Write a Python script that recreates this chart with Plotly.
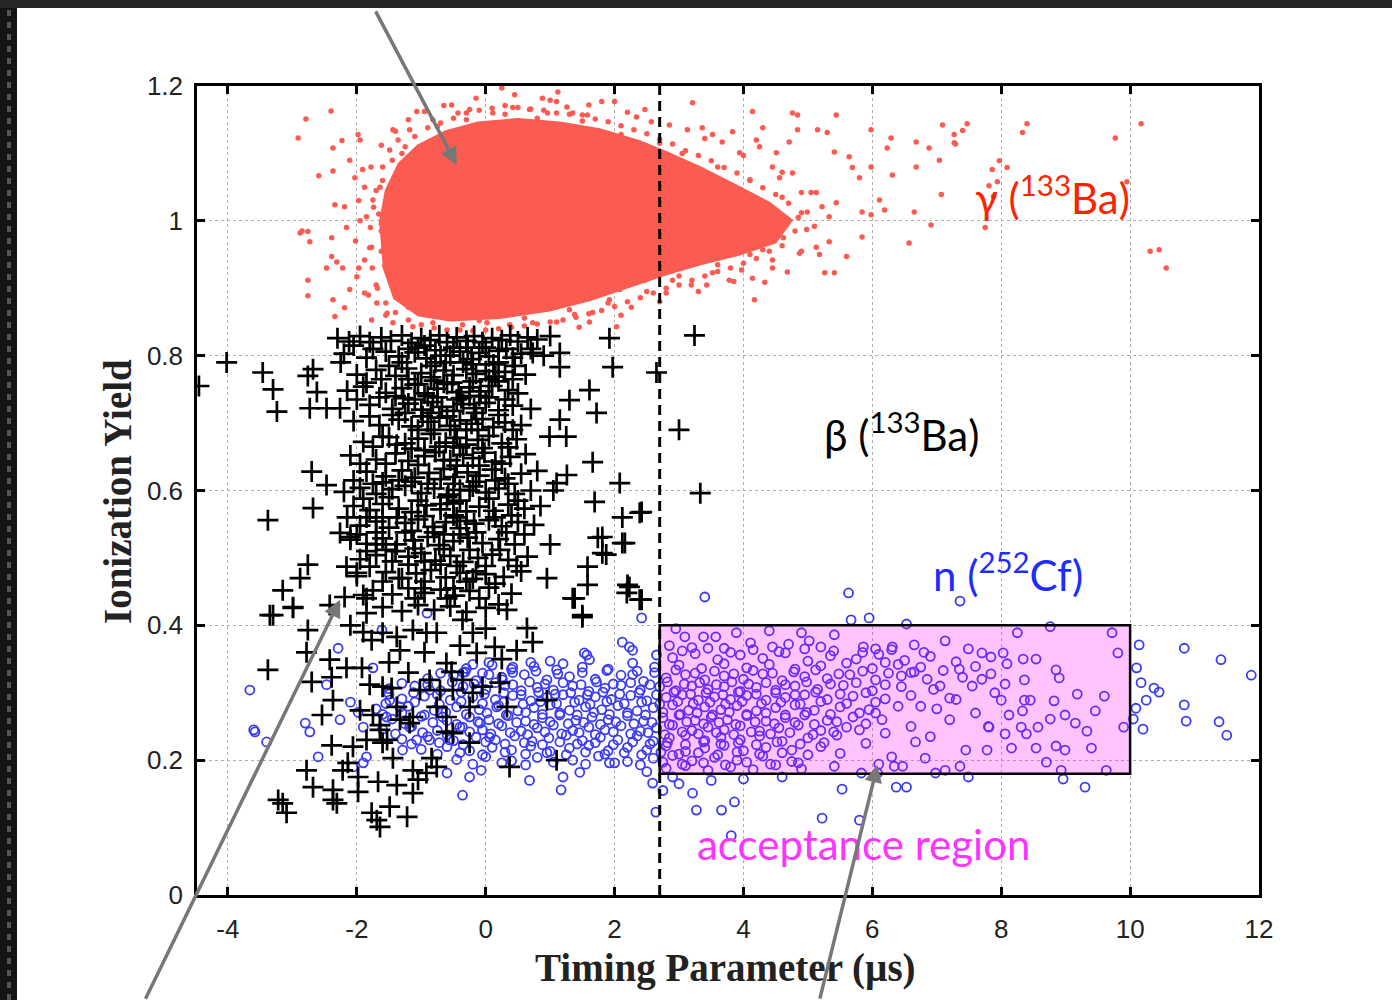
import plotly.graph_objects as go

# ---------------- data ----------------
# gamma (133Ba): outline of the saturated dense core + scattered halo dots
gamma_core_x = [-1.65, -1.55, -1.35, -1.05, -0.62, -0.12, 0.50, 1.15, 1.77, 2.39, 2.78, 3.32, 3.94, 4.40, 4.75,
                4.50, 3.94, 3.32, 2.78, 2.23, 1.61, 0.99, 0.22, -0.56, -1.05, -1.42, -1.60]
gamma_core_y = [0.994, 1.045, 1.085, 1.112, 1.133, 1.146, 1.151, 1.146, 1.136, 1.118, 1.103, 1.080, 1.050, 1.027, 1.001,
                0.968, 0.950, 0.935, 0.920, 0.902, 0.882, 0.867, 0.856, 0.852, 0.860, 0.885, 0.935]

gamma_halo = [
    (-2.91, 1.123), (-2.79, 1.151), (-2.40, 1.163), (-2.59, 1.067), (-2.37, 1.074), (-2.23, 1.119), (-2.37, 1.108),
    (-2.11, 1.090), (-1.98, 1.128), (-1.95, 1.120), (-2.03, 1.064), (-1.91, 1.076), (-2.34, 1.024), (-2.19, 1.021),
    (-2.88, 0.982), (-2.76, 0.984), (-2.73, 0.969), (-2.39, 0.975), (-2.16, 0.990), (-2.76, 0.912), (-2.76, 0.889),
    (-2.39, 0.947), (-2.31, 0.939), (-2.22, 0.930), (-2.47, 0.930), (-2.37, 0.883), (-2.19, 0.871), (-2.34, 0.858),
    (-2.11, 0.898), (-2.00, 0.917), (-1.88, 0.942), (-1.77, 0.961), (-1.85, 1.006), (-1.75, 1.031), (-1.64, 1.050),
    (-1.60, 1.080), (-1.49, 1.105), (-1.36, 1.120), (-1.44, 1.135), (-1.18, 1.135), (-1.07, 1.162), (-0.82, 1.150),
    (-0.53, 1.172), (-0.43, 1.160), (-0.25, 1.165), (0.25, 1.197), (0.88, 1.182), (1.12, 1.191), (1.10, 1.177),
    (0.42, 1.168), (0.68, 1.165), (0.11, 1.160), (0.96, 1.160), (1.26, 1.169), (-1.88, 0.893), (-1.69, 0.878),
    (-1.53, 0.863), (-1.77, 0.853), (-1.44, 0.849), (-1.13, 0.843), (-0.82, 0.849), (-0.36, 0.846), (0.02, 0.849),
    (0.37, 0.846), (0.73, 0.849), (1.10, 0.850), (1.80, 1.177), (2.00, 1.177), (1.35, 1.160), (1.58, 1.157),
    (2.34, 1.154), (2.57, 1.147), (2.47, 1.165), (3.21, 1.175), (3.13, 1.135), (3.36, 1.138), (3.52, 1.128),
    (3.83, 1.132), (4.14, 1.162), (4.30, 1.138), (4.20, 1.120), (3.67, 1.117), (3.94, 1.101), (4.25, 1.110),
    (4.51, 1.101), (4.71, 1.117), (4.76, 1.160), (4.84, 1.157), (4.84, 1.135), (5.15, 1.135), (5.30, 1.131),
    (5.44, 1.157), (5.41, 1.102), (5.64, 1.095), (5.69, 1.079), (5.80, 1.064), (5.98, 1.135), (5.98, 1.080),
    (6.23, 1.108), (6.29, 1.123), (6.31, 1.068), (6.68, 1.117), (6.68, 1.080), (6.88, 1.108), (7.04, 1.090),
    (7.09, 1.142), (7.07, 1.039), (7.27, 1.128), (7.27, 1.116), (6.57, 0.967), (6.65, 1.013), (6.91, 0.994),
    (6.11, 1.031), (6.19, 1.016), (5.98, 1.009), (5.84, 1.013), (5.84, 0.976), (5.60, 0.947), (5.44, 1.027),
    (5.33, 1.006), (5.22, 1.021), (5.13, 1.042), (5.13, 0.961), (5.33, 0.969), (5.41, 0.923), (5.26, 0.923),
    (5.18, 0.950), (4.98, 0.987), (4.99, 1.013), (4.90, 1.042), (4.76, 1.071), (4.56, 1.064), (4.45, 1.080),
    (4.87, 0.952), (4.68, 0.924), (4.45, 0.942), (4.30, 0.957), (4.14, 0.915), (4.33, 0.909), (4.17, 0.883),
    (3.97, 0.927), (3.78, 0.912), (3.52, 0.923), (3.43, 0.905), (3.19, 0.905), (2.90, 0.912), (2.80, 0.893),
    (2.47, 0.912), (2.26, 0.872), (2.08, 0.898), (1.92, 0.883), (1.77, 0.893), (1.61, 0.850), (1.38, 0.861),
    (2.03, 0.843), (1.66, 0.864), (7.29, 1.114), (7.40, 1.134), (7.47, 1.144), (8.33, 1.131), (8.40, 1.144),
    (7.97, 1.089), (7.86, 1.076), (8.09, 1.079), (7.94, 1.058), (7.81, 1.052), (7.88, 1.036), (7.75, 0.990),
    (9.77, 1.123), (10.17, 1.144), (9.95, 1.058), (10.31, 0.955), (10.45, 0.957), (10.56, 0.930),
    (-2.85, 0.985), (-1.70, 0.905), (-1.62, 0.985), (-1.66, 1.010), (-1.30, 1.100), (-0.75, 1.140), (-0.30, 1.150),
    (0.30, 1.158), (0.80, 1.152), (1.50, 1.148), (2.10, 1.128), (2.70, 1.115), (3.05, 1.100), (3.60, 1.080),
    (4.10, 1.060), (4.60, 1.035), (4.85, 1.005), (4.62, 0.975), (4.10, 0.950), (3.60, 0.935), (3.00, 0.918),
    (2.50, 0.895), (1.90, 0.878), (1.30, 0.868), (0.60, 0.856), (-0.10, 0.852), (-0.80, 0.858), (-1.20, 0.872),
    (-1.45, 0.905), (-1.62, 0.955),
    # ring close to the edge of the core
    (-1.60, 1.060), (-1.45, 1.090), (-1.25, 1.110), (-1.10, 1.125), (-0.90, 1.138), (-0.70, 1.145), (-0.50, 1.152),
    (-0.30, 1.160), (-0.10, 1.164), (0.10, 1.167), (0.30, 1.171), (0.50, 1.168), (0.70, 1.166), (0.90, 1.164),
    (1.10, 1.160), (1.30, 1.158), (1.50, 1.157), (1.70, 1.151), (1.90, 1.147), (2.10, 1.141), (2.30, 1.135),
    (2.50, 1.129), (2.70, 1.121), (2.90, 1.114), (3.10, 1.104), (3.30, 1.097), (3.50, 1.089), (3.70, 1.079),
    (3.90, 1.071), (4.10, 1.061), (4.30, 1.049), (4.50, 1.039), (4.70, 1.026), (4.90, 1.012),
    (4.80, 0.985), (4.60, 0.963), (4.40, 0.955), (4.20, 0.944), (4.00, 0.937), (3.80, 0.930), (3.60, 0.925),
    (3.40, 0.918), (3.20, 0.912), (3.00, 0.905), (2.80, 0.900), (2.60, 0.893), (2.40, 0.886), (2.20, 0.880),
    (2.00, 0.873), (1.80, 0.867), (1.60, 0.862), (1.40, 0.857), (1.20, 0.853), (1.00, 0.850), (0.80, 0.847),
    (0.60, 0.844), (0.40, 0.842), (0.20, 0.840), (0.00, 0.838), (-0.20, 0.837), (-0.40, 0.838), (-0.60, 0.838),
    (-0.80, 0.841), (-1.00, 0.846), (-1.20, 0.853), (-1.40, 0.864), (-1.55, 0.878), (-1.68, 0.900), (-1.76, 0.930),
    (-1.80, 0.960), (-1.79, 0.990), (-1.74, 1.020), (-1.70, 1.045),
    # outer, sparser ring
    (-1.95, 1.000), (-1.88, 1.050), (-1.78, 1.080), (-1.62, 1.112), (-1.40, 1.133), (-1.20, 1.150), (-0.95, 1.162),
    (-0.65, 1.171), (-0.15, 1.182), (0.45, 1.187), (1.00, 1.179), (1.60, 1.172), (2.20, 1.161), (2.85, 1.142),
    (3.40, 1.122), (4.00, 1.097), (4.60, 1.072), (5.05, 1.042), (5.10, 0.992), (4.90, 0.955), (4.45, 0.930),
    (3.85, 0.910), (3.30, 0.895), (2.70, 0.880), (2.10, 0.860), (1.45, 0.842), (-1.55, 0.860), (-1.82, 0.890),
    (-1.97, 0.930), (-2.02, 0.970), (-1.97, 1.030),
]

# beta (133Ba): crosses
beta_pts = [
    # dense core
    (-2.30, 0.826), (-2.12, 0.821), (-1.95, 0.829), (-1.80, 0.820), (-1.62, 0.827), (-1.47, 0.822), (-1.30, 0.830),
    (-1.15, 0.819), (-1.00, 0.826), (-0.86, 0.823), (-0.72, 0.830), (-0.60, 0.820), (-0.45, 0.827), (-0.30, 0.822),
    (-0.18, 0.829), (-0.05, 0.820), (0.10, 0.826), (0.25, 0.823), (0.38, 0.830), (0.50, 0.821), (0.65, 0.827),
    (0.80, 0.824), (1.00, 0.829),
    (-2.20, 0.803), (-1.85, 0.797), (-1.55, 0.806), (-1.35, 0.799), (-1.10, 0.805), (-0.92, 0.796), (-0.78, 0.808),
    (-0.55, 0.800), (-0.40, 0.806), (-0.22, 0.795), (-0.10, 0.804), (0.05, 0.799), (0.20, 0.807), (0.42, 0.797),
    (0.55, 0.803), (0.90, 0.800),
    (-2.00, 0.772), (-1.70, 0.779), (-1.40, 0.770), (-1.22, 0.781), (-1.00, 0.774), (-0.85, 0.768), (-0.65, 0.778),
    (-0.50, 0.771), (-0.30, 0.780), (-0.15, 0.773), (0.00, 0.777), (0.15, 0.769), (0.30, 0.776), (0.62, 0.772),
    (-2.15, 0.748), (-1.90, 0.754), (-1.55, 0.745), (-1.30, 0.752), (-1.10, 0.757), (-0.95, 0.744), (-0.75, 0.751),
    (-0.60, 0.758), (-0.42, 0.746), (-0.25, 0.753), (-0.08, 0.747), (0.10, 0.755), (0.35, 0.749), (0.50, 0.744),
    (-1.80, 0.727), (-1.45, 0.721), (-1.20, 0.729), (-1.00, 0.720), (-0.82, 0.731), (-0.68, 0.724), (-0.50, 0.718),
    (-0.35, 0.728), (-0.18, 0.722), (0.00, 0.730), (0.20, 0.719), (0.42, 0.726), (0.70, 0.721),
    (-2.05, 0.703), (-1.65, 0.697), (-1.35, 0.705), (-1.15, 0.695), (-0.90, 0.702), (-0.72, 0.708), (-0.55, 0.696),
    (-0.40, 0.704), (-0.22, 0.699), (-0.05, 0.706), (0.12, 0.694), (0.30, 0.701), (0.55, 0.697),
    (-1.90, 0.672), (-1.50, 0.679), (-1.25, 0.670), (-1.05, 0.677), (-0.85, 0.684), (-0.62, 0.671), (-0.45, 0.678),
    (-0.30, 0.668), (-0.12, 0.675), (0.05, 0.681), (0.25, 0.670), (0.48, 0.676),
    (-2.10, 0.652), (-1.70, 0.646), (-1.40, 0.655), (-1.20, 0.644), (-0.95, 0.651), (-0.78, 0.657), (-0.55, 0.645),
    (-0.35, 0.653), (-0.20, 0.648), (-0.02, 0.656), (0.15, 0.643), (0.38, 0.650), (0.62, 0.654),
    (-1.85, 0.628), (-1.55, 0.621), (-1.30, 0.630), (-1.10, 0.619), (-0.88, 0.626), (-0.65, 0.632), (-0.48, 0.620),
    (-0.28, 0.627), (-0.10, 0.622), (0.10, 0.631), (0.30, 0.618), (0.55, 0.625), (0.80, 0.629),
    (-2.20, 0.598), (-1.95, 0.604), (-1.70, 0.595), (-1.45, 0.602), (-1.25, 0.607), (-1.00, 0.596), (-0.80, 0.603),
    (-0.58, 0.594), (-0.40, 0.601), (-0.20, 0.606), (0.00, 0.597), (0.20, 0.603), (0.45, 0.595), (0.70, 0.600),
    (-2.05, 0.577), (-1.80, 0.571), (-1.60, 0.580), (-1.35, 0.573), (-1.15, 0.568), (-0.92, 0.578), (-0.70, 0.572),
    (-0.50, 0.581), (-0.30, 0.569), (-0.10, 0.576), (0.12, 0.570), (0.35, 0.579), (0.60, 0.573), (0.85, 0.577),
    (-1.95, 0.548), (-1.70, 0.554), (-1.50, 0.545), (-1.25, 0.552), (-1.05, 0.557), (-0.82, 0.546), (-0.62, 0.553),
    (-0.40, 0.544), (-0.18, 0.551), (0.05, 0.556), (0.25, 0.547), (0.50, 0.553), (0.75, 0.549),
    (-2.10, 0.527), (-1.85, 0.521), (-1.60, 0.529), (-1.38, 0.520), (-1.12, 0.526), (-0.90, 0.531), (-0.72, 0.519),
    (-0.50, 0.525), (-0.28, 0.530), (-0.05, 0.522), (0.20, 0.528), (0.45, 0.520),
    (-1.95, 0.498), (-1.70, 0.504), (-1.45, 0.495), (-1.20, 0.502), (-1.00, 0.507), (-0.78, 0.496), (-0.55, 0.503),
    (-0.35, 0.494), (-0.12, 0.500), (0.10, 0.505), (0.35, 0.497), (0.65, 0.502),
    (-2.00, 0.473), (-1.55, 0.479), (-1.30, 0.470), (-1.08, 0.477), (-0.85, 0.482), (-0.62, 0.471), (-0.40, 0.478),
    (-0.20, 0.469), (0.00, 0.476), (0.28, 0.472), (0.55, 0.480),
    (-1.75, 0.452), (-1.45, 0.446), (-1.20, 0.455), (-0.95, 0.448), (-0.70, 0.453), (-0.48, 0.444), (-0.25, 0.451),
    (0.05, 0.456), (0.40, 0.447),
    (-1.60, 0.427), (-1.30, 0.421), (-1.05, 0.430), (-0.80, 0.423), (-0.55, 0.428), (-0.30, 0.420), (0.00, 0.426),
    (0.20, 0.431),
    (-1.05, 0.812), (-0.78, 0.790), (-0.50, 0.812), (-0.20, 0.787), (-0.65, 0.760), (-0.38, 0.737), (-0.90, 0.740),
    (-1.20, 0.765), (-0.10, 0.740), (0.05, 0.765), (-0.60, 0.710), (-0.30, 0.690), (-0.85, 0.715), (-1.05, 0.690),
    (-0.50, 0.665), (-1.30, 0.790), (-0.95, 0.660), (-0.15, 0.715), (-0.70, 0.800), (0.20, 0.790), (-1.40, 0.740),
    (-1.60, 0.680), (-1.75, 0.610), (-1.60, 0.560), (-0.70, 0.580), (-0.90, 0.610), (-1.15, 0.540), (-1.40, 0.510),
    (-0.65, 0.535), (-0.95, 0.495), (-1.70, 0.520), (-0.25, 0.600), (-0.45, 0.560), (-0.15, 0.480), (-1.00, 0.455),
    (-1.35, 0.470), (-0.50, 0.455),
    (-2.25, 0.790), (-2.05, 0.815), (-1.75, 0.810), (-1.50, 0.785), (-1.20, 0.810), (-0.95, 0.815), (-0.85, 0.785),
    (-0.62, 0.790), (-0.35, 0.790), (-0.28, 0.812), (0.00, 0.812), (0.12, 0.787), (0.32, 0.810), (0.45, 0.785),
    (0.70, 0.810), (-1.85, 0.760), (-1.62, 0.765), (-1.05, 0.758), (-0.80, 0.763), (-0.52, 0.760), (-0.20, 0.762),
    (0.20, 0.762), (0.42, 0.765), (-2.00, 0.735), (-1.65, 0.738), (-1.28, 0.737), (-1.10, 0.735), (-0.75, 0.738),
    (-0.45, 0.735), (-0.25, 0.740), (0.05, 0.738), (0.30, 0.735), (-1.80, 0.710), (-1.45, 0.712), (-1.25, 0.715),
    (-0.98, 0.710), (-0.80, 0.690), (-0.48, 0.690), (-0.12, 0.690), (0.20, 0.712), (0.42, 0.690), (-1.75, 0.665),
    (-1.38, 0.668), (-1.15, 0.662), (-0.72, 0.665), (-0.40, 0.664), (-0.05, 0.663), (0.35, 0.664), (-1.95, 0.640),
    (-1.55, 0.640), (-1.05, 0.638), (-0.65, 0.645), (-0.45, 0.637), (-0.10, 0.637), (0.25, 0.640), (-2.05, 0.615),
    (-1.60, 0.612), (-1.35, 0.615), (-1.15, 0.613), (-0.70, 0.617), (-0.50, 0.610), (-0.15, 0.613), (0.15, 0.615),
    (0.35, 0.610), (-1.90, 0.588), (-1.50, 0.590), (-1.05, 0.585), (-0.60, 0.590), (-0.40, 0.585), (0.05, 0.588),
    (0.50, 0.585), (-2.15, 0.560), (-1.85, 0.560), (-1.38, 0.560), (-0.95, 0.562), (-0.50, 0.563), (-0.30, 0.555),
    (0.15, 0.560), (0.40, 0.563), (-2.00, 0.535), (-1.70, 0.538), (-1.25, 0.538), (-0.80, 0.538), (-0.40, 0.535),
    (-0.15, 0.538), (0.32, 0.538), (0.60, 0.535), (-1.85, 0.510), (-1.55, 0.512), (-1.10, 0.514), (-0.65, 0.513),
    (-0.25, 0.512), (0.00, 0.488), (0.22, 0.512), (0.48, 0.488), (-1.80, 0.487), (-1.20, 0.490), (-0.70, 0.490),
    (-0.45, 0.488), (-1.60, 0.465), (-0.95, 0.465), (-0.30, 0.465), (0.15, 0.462), (-1.85, 0.440), (-1.10, 0.440),
    (-0.60, 0.440), (-0.10, 0.440),
    # outliers, upper part
    (-4.45, 0.755), (-4.02, 0.790), (-3.46, 0.775), (-3.30, 0.750), (-3.24, 0.717), (-2.76, 0.770), (-2.68, 0.780),
    (-2.62, 0.746), (-2.73, 0.722), (-2.47, 0.722), (-2.26, 0.722), (-2.70, 0.628), (-2.47, 0.608), (-2.68, 0.574),
    (-3.38, 0.556), (-2.76, 0.490), (-2.88, 0.470), (-3.15, 0.452), (-2.99, 0.427), (-3.30, 0.415), (-2.42, 0.430),
    (-2.19, 0.442), (-2.26, 0.537), (-2.10, 0.531), (-2.16, 0.487), (-2.00, 0.478), (-1.90, 0.445), (-1.85, 0.418),
    (1.38, 0.440), (1.58, 0.487), (1.58, 0.460), (1.50, 0.415), (1.74, 0.530), (1.87, 0.505), (2.12, 0.560),
    (2.39, 0.567), (2.16, 0.522), (2.19, 0.448), (2.39, 0.438), (2.20, 0.460), (1.61, 0.749), (1.30, 0.734),
    (1.72, 0.715), (1.15, 0.705), (0.99, 0.680), (1.25, 0.680), (1.66, 0.642), (1.26, 0.623), (1.10, 0.611),
    (2.08, 0.611), (1.69, 0.583), (2.42, 0.568), (1.81, 0.531), (2.12, 0.522), (1.81, 0.507), (1.35, 0.440),
    (2.23, 0.457), (2.42, 0.438), (1.92, 0.826), (1.97, 0.783), (2.65, 0.775), (3.00, 0.690), (3.33, 0.596),
    (3.24, 0.830), (0.73, 0.804), (1.15, 0.804), (1.15, 0.783), (1.00, 0.520), (0.95, 0.470), (1.05, 0.600),
    # lower part
    (-3.35, 0.415), (-2.99, 0.426), (-3.38, 0.334), (-2.76, 0.393), (-2.78, 0.360), (-2.70, 0.316), (-2.42, 0.349),
    (-2.39, 0.323), (-2.37, 0.289), (-2.54, 0.267), (-2.39, 0.222), (-2.16, 0.337), (-1.92, 0.337), (-1.77, 0.378),
    (-1.60, 0.389), (-1.38, 0.383), (-1.33, 0.363), (-1.13, 0.393), (-0.92, 0.389), (-0.76, 0.389), (-0.61, 0.344),
    (-0.53, 0.331), (-0.36, 0.408), (-0.20, 0.389), (-0.14, 0.359), (0.14, 0.368), (0.48, 0.363), (0.64, 0.396),
    (0.73, 0.375), (0.33, 0.423), (1.50, 0.412), (-1.80, 0.312), (-1.60, 0.309), (-1.46, 0.307), (-1.75, 0.267),
    (-1.64, 0.252), (-1.60, 0.226), (-1.85, 0.230), (-2.06, 0.220), (-2.14, 0.196), (-1.98, 0.175), (-1.98, 0.153),
    (-1.67, 0.168), (-1.38, 0.163), (-1.13, 0.151), (-1.22, 0.116), (-1.49, 0.131), (-1.69, 0.111), (-1.64, 0.101),
    (-1.77, 0.122), (-2.78, 0.185), (-2.68, 0.160), (-2.37, 0.156), (-2.37, 0.141), (-2.31, 0.136), (-3.22, 0.141),
    (-3.15, 0.136), (-3.09, 0.122), (-2.22, 0.185), (-1.13, 0.264), (-1.33, 0.260), (-1.18, 0.255), (-0.84, 0.203),
    (-0.76, 0.190), (-0.92, 0.181), (-0.61, 0.242), (-0.51, 0.240), (-0.25, 0.226), (0.37, 0.190), (0.95, 0.289),
    (1.10, 0.200), (-1.05, 0.171), (-1.13, 0.185), (-1.44, 0.203), (-1.02, 0.304), (-0.87, 0.319), (-0.71, 0.304),
    (-0.51, 0.304), (-0.36, 0.319), (-0.20, 0.300), (-0.05, 0.309), (0.22, 0.315), (0.33, 0.279), (-0.25, 0.279),
    (-0.61, 0.264), (-0.76, 0.279), (-1.64, 0.245), (-1.53, 0.230), (-1.38, 0.279), (-1.95, 0.274), (-2.10, 0.400),
    (-1.50, 0.345), (-1.20, 0.330), (-0.95, 0.360), (-0.40, 0.370), (0.00, 0.395), (0.25, 0.350), (-1.90, 0.390),
]

# n (252Cf): open circles
neutron_pts = [
    # sparse, left and below the band
    (-3.66, 0.304), (-3.60, 0.245), (-3.40, 0.227), (-3.58, 0.242), (-2.80, 0.255), (-2.73, 0.242), (-2.60, 0.205),
    (-2.47, 0.312), (-2.29, 0.366), (-1.75, 0.337), (-2.26, 0.260), (-2.10, 0.286), (-1.98, 0.271), (-1.90, 0.249),
    (-2.06, 0.190), (-1.90, 0.196), (-1.85, 0.205), (-1.54, 0.264), (-1.49, 0.289), (-1.33, 0.279), (-1.18, 0.249),
    (-1.07, 0.230), (-1.29, 0.215), (-0.87, 0.304), (-0.87, 0.230), (-0.67, 0.264), (-0.56, 0.230), (-0.36, 0.249),
    (-0.09, 0.255), (0.06, 0.234), (0.17, 0.279), (-0.05, 0.329), (0.26, 0.319), (-0.36, 0.148), (-0.25, 0.175),
    (-0.07, 0.185), (0.68, 0.170), (1.20, 0.175), (1.17, 0.156), (1.46, 0.182), (1.92, 0.196), (2.59, 0.166),
    (2.50, 0.183), (-0.60, 0.181), (1.57, 0.356), (2.23, 0.368), (2.28, 0.344), (2.65, 0.356), (0.70, 0.345),
    (1.00, 0.347), (1.20, 0.343), (-0.35, 0.330), (-0.20, 0.342), (0.05, 0.345), (0.42, 0.338), (-0.91, 0.418),
    (2.42, 0.411), (2.12, 0.375), (2.28, 0.363), (1.53, 0.359), (1.61, 0.349), (-1.61, 0.393),
    # dense band
    (2.90, 0.352), (3.25, 0.358), (3.60, 0.349), (3.95, 0.356), (4.30, 0.351), (4.65, 0.359), (5.00, 0.347),
    (5.35, 0.355), (5.75, 0.350), (6.10, 0.357), (6.50, 0.348), (6.90, 0.354), (7.30, 0.346),
    (-0.30, 0.336), (0.10, 0.341), (0.40, 0.335), (0.75, 0.339), (1.10, 0.334), (1.50, 0.338), (1.90, 0.335),
    (2.35, 0.332), (2.62, 0.338), (3.00, 0.341), (3.35, 0.336), (3.70, 0.343), (4.05, 0.337), (4.40, 0.342),
    (4.80, 0.335), (5.20, 0.340), (5.60, 0.344), (6.00, 0.336), (6.40, 0.342), (6.75, 0.338), (7.10, 0.333),
    (7.60, 0.339),
    (-0.90, 0.321), (-0.50, 0.326), (-0.15, 0.318), (0.25, 0.323), (0.60, 0.327), (0.95, 0.319), (1.30, 0.324),
    (1.70, 0.320), (2.10, 0.326), (2.45, 0.317), (2.80, 0.322), (3.10, 0.327), (3.40, 0.319), (3.70, 0.325),
    (4.00, 0.320), (4.30, 0.328), (4.60, 0.318), (4.95, 0.324), (5.30, 0.321), (5.65, 0.327), (6.05, 0.319),
    (6.45, 0.325), (6.85, 0.320), (7.40, 0.323),
    (-1.50, 0.306), (-1.10, 0.310), (-0.70, 0.303), (-0.35, 0.309), (0.00, 0.305), (0.30, 0.311), (0.55, 0.303),
    (0.80, 0.308), (1.05, 0.304), (1.35, 0.310), (1.60, 0.302), (1.85, 0.307), (2.10, 0.311), (2.40, 0.304),
    (2.70, 0.309), (2.95, 0.303), (3.20, 0.310), (3.45, 0.305), (3.70, 0.309), (3.95, 0.302), (4.20, 0.308),
    (4.50, 0.304), (4.80, 0.310), (5.15, 0.305), (5.55, 0.311), (6.00, 0.303), (6.45, 0.309), (6.95, 0.305),
    (7.55, 0.310),
    (-1.30, 0.291), (-0.95, 0.295), (-0.55, 0.289), (-0.20, 0.294), (0.15, 0.290), (0.42, 0.296), (0.70, 0.288),
    (0.95, 0.293), (1.20, 0.297), (1.45, 0.289), (1.70, 0.294), (1.95, 0.290), (2.25, 0.296), (2.50, 0.288),
    (2.80, 0.293), (3.05, 0.297), (3.30, 0.289), (3.55, 0.294), (3.80, 0.290), (4.05, 0.296), (4.35, 0.289),
    (4.65, 0.293), (4.95, 0.297), (5.30, 0.290), (5.70, 0.295), (6.20, 0.291), (6.60, 0.296), (7.20, 0.292),
    (-1.70, 0.276), (-1.20, 0.280), (-0.80, 0.274), (-0.45, 0.279), (-0.10, 0.275), (0.20, 0.281), (0.50, 0.273),
    (0.75, 0.278), (1.00, 0.282), (1.30, 0.274), (1.55, 0.279), (1.80, 0.275), (2.05, 0.281), (2.35, 0.273),
    (2.60, 0.278), (2.90, 0.282), (3.15, 0.274), (3.40, 0.279), (3.65, 0.275), (3.90, 0.281), (4.20, 0.273),
    (4.50, 0.278), (4.80, 0.282), (5.10, 0.274), (5.50, 0.279), (5.95, 0.275), (6.40, 0.280), (7.00, 0.276),
    (-1.45, 0.261), (-1.00, 0.265), (-0.60, 0.259), (-0.25, 0.264), (0.05, 0.260), (0.35, 0.266), (0.62, 0.258),
    (0.88, 0.263), (1.15, 0.267), (1.40, 0.259), (1.65, 0.264), (1.90, 0.260), (2.20, 0.266), (2.45, 0.258),
    (2.75, 0.263), (3.00, 0.267), (3.25, 0.259), (3.50, 0.264), (3.75, 0.260), (4.05, 0.266), (4.35, 0.258),
    (4.65, 0.263), (4.95, 0.267), (5.30, 0.259), (5.70, 0.264), (6.15, 0.260),
    (-1.60, 0.246), (-1.15, 0.250), (-0.75, 0.244), (-0.40, 0.249), (-0.05, 0.245), (0.25, 0.251), (0.55, 0.243),
    (0.80, 0.248), (1.05, 0.252), (1.35, 0.244), (1.60, 0.249), (1.85, 0.245), (2.10, 0.251), (2.40, 0.243),
    (2.65, 0.248), (2.90, 0.252), (3.20, 0.244), (3.45, 0.249), (3.70, 0.245), (3.95, 0.251), (4.25, 0.243),
    (4.55, 0.248), (4.85, 0.252), (5.20, 0.244), (5.60, 0.249),
    (-1.30, 0.231), (-0.90, 0.235), (-0.50, 0.229), (-0.15, 0.234), (0.15, 0.230), (0.45, 0.236), (0.72, 0.228),
    (0.98, 0.233), (1.25, 0.237), (1.50, 0.229), (1.78, 0.234), (2.05, 0.230), (2.35, 0.236), (2.60, 0.228),
    (2.85, 0.233), (3.10, 0.237), (3.40, 0.229), (3.65, 0.234), (3.95, 0.230), (4.25, 0.236), (4.60, 0.228),
    (5.00, 0.233), (5.45, 0.237),
    (-1.00, 0.216), (-0.60, 0.220), (-0.25, 0.214), (0.10, 0.219), (0.40, 0.215), (0.70, 0.221), (1.00, 0.213),
    (1.30, 0.218), (1.60, 0.222), (1.90, 0.214), (2.20, 0.219), (2.50, 0.215), (2.80, 0.221), (3.10, 0.213),
    (3.40, 0.218), (3.70, 0.222), (4.00, 0.214), (4.35, 0.219), (4.75, 0.215), (5.20, 0.220),
    (-0.45, 0.201), (0.00, 0.205), (0.40, 0.199), (0.80, 0.204), (1.35, 0.200), (1.75, 0.206), (2.20, 0.198),
    (2.60, 0.203), (2.90, 0.207), (3.20, 0.199), (3.55, 0.204), (3.90, 0.200), (4.30, 0.206), (4.75, 0.198),
    (2.80, 0.188), (3.10, 0.192), (3.45, 0.185), (3.80, 0.190), (4.15, 0.186), (4.50, 0.193), (4.90, 0.187),
    # band, in-between rows
    (-0.70, 0.329), (-0.32, 0.331), (0.05, 0.327), (0.42, 0.330), (0.78, 0.332), (1.12, 0.328), (1.50, 0.330),
    (1.88, 0.333), (2.28, 0.327), (2.62, 0.330), (2.95, 0.334), (3.25, 0.329), (3.55, 0.332), (3.85, 0.328),
    (4.15, 0.333), (4.45, 0.329), (4.78, 0.331), (5.12, 0.334), (5.48, 0.328), (5.85, 0.332), (6.25, 0.329),
    (6.65, 0.331),
    (-1.30, 0.314), (-0.90, 0.312), (-0.52, 0.316), (-0.18, 0.313), (0.15, 0.315), (0.42, 0.312), (0.68, 0.316),
    (0.92, 0.313), (1.20, 0.315), (1.48, 0.312), (1.72, 0.316), (1.98, 0.313), (2.25, 0.315), (2.55, 0.312),
    (2.82, 0.316), (3.08, 0.313), (3.32, 0.315), (3.58, 0.312), (3.82, 0.316), (4.08, 0.313), (4.35, 0.315),
    (4.65, 0.312), (4.98, 0.316), (5.35, 0.313), (5.75, 0.315), (6.20, 0.312),
    (-1.50, 0.298), (-1.12, 0.300), (-0.75, 0.297), (-0.38, 0.301), (-0.02, 0.298), (0.28, 0.300), (0.55, 0.297),
    (0.82, 0.301), (1.08, 0.298), (1.32, 0.300), (1.58, 0.297), (1.82, 0.301), (2.08, 0.298), (2.38, 0.300),
    (2.65, 0.297), (2.92, 0.301), (3.18, 0.298), (3.42, 0.300), (3.68, 0.297), (3.92, 0.301), (4.20, 0.298),
    (4.50, 0.300), (4.80, 0.297), (5.12, 0.301), (5.50, 0.298), (5.90, 0.300),
    (-1.55, 0.284), (-1.10, 0.286), (-0.72, 0.283), (-0.38, 0.287), (-0.05, 0.284), (0.28, 0.286), (0.58, 0.283),
    (0.85, 0.287), (1.10, 0.284), (1.38, 0.286), (1.62, 0.283), (1.88, 0.287), (2.15, 0.284), (2.42, 0.286),
    (2.70, 0.283), (2.98, 0.287), (3.22, 0.284), (3.48, 0.286), (3.72, 0.283), (3.98, 0.287), (4.28, 0.284),
    (4.58, 0.286), (4.88, 0.283), (5.20, 0.287), (5.60, 0.284), (6.05, 0.286),
    (-1.60, 0.268), (-1.30, 0.270), (-0.95, 0.267), (-0.62, 0.271), (-0.30, 0.268), (0.02, 0.270), (0.32, 0.267),
    (0.62, 0.271), (0.88, 0.268), (1.15, 0.270), (1.42, 0.267), (1.68, 0.271), (1.92, 0.268), (2.20, 0.270),
    (2.48, 0.267), (2.75, 0.271), (3.02, 0.268), (3.28, 0.270), (3.52, 0.267), (3.78, 0.271), (4.05, 0.268),
    (4.35, 0.270), (4.65, 0.267), (4.98, 0.271), (5.35, 0.268), (5.80, 0.270),
    (-1.25, 0.254), (-0.82, 0.256), (-0.45, 0.253), (-0.12, 0.257), (0.20, 0.254), (0.48, 0.256), (0.75, 0.253),
    (1.00, 0.257), (1.28, 0.254), (1.52, 0.256), (1.78, 0.253), (2.02, 0.257), (2.30, 0.254), (2.58, 0.256),
    (2.85, 0.253), (3.12, 0.257), (3.38, 0.254), (3.62, 0.256), (3.88, 0.253), (4.18, 0.257), (4.48, 0.254),
    (4.80, 0.256), (5.10, 0.253), (5.45, 0.257), (5.90, 0.254),
    (-1.40, 0.239), (-0.98, 0.241), (-0.60, 0.238), (-0.25, 0.242), (0.08, 0.239), (0.38, 0.241), (0.65, 0.238),
    (0.92, 0.242), (1.18, 0.239), (1.45, 0.241), (1.70, 0.238), (1.98, 0.242), (2.25, 0.239), (2.52, 0.241),
    (2.78, 0.238), (3.05, 0.242), (3.30, 0.239), (3.58, 0.241), (3.85, 0.238), (4.12, 0.242), (4.42, 0.239),
    (4.72, 0.241), (5.08, 0.238), (5.40, 0.242),
    (-1.15, 0.224), (-0.72, 0.226), (-0.35, 0.223), (0.00, 0.227), (0.30, 0.224), (0.60, 0.226), (0.88, 0.223),
    (1.15, 0.227), (1.42, 0.224), (1.70, 0.226), (1.98, 0.223), (2.28, 0.227), (2.55, 0.224), (2.82, 0.226),
    (3.10, 0.223), (3.38, 0.227), (3.65, 0.224), (3.92, 0.226), (4.20, 0.223), (4.52, 0.227), (4.88, 0.224),
    (5.25, 0.226),
    (-0.75, 0.209), (-0.40, 0.211), (-0.05, 0.208), (0.30, 0.212), (0.62, 0.209), (0.95, 0.211), (1.25, 0.208),
    (1.55, 0.212), (1.85, 0.209), (2.15, 0.211), (2.42, 0.208), (2.72, 0.212), (3.00, 0.209), (3.30, 0.211),
    (3.60, 0.208), (3.90, 0.212), (4.25, 0.209), (4.60, 0.211), (5.00, 0.208),
    (-0.20, 0.194), (0.25, 0.196), (0.62, 0.193), (1.05, 0.197), (1.55, 0.194), (2.00, 0.196), (2.40, 0.193),
    (2.75, 0.197), (3.05, 0.194), (3.38, 0.196), (3.72, 0.193), (4.05, 0.197), (4.42, 0.194), (4.85, 0.196),
    (3.05, 0.362), (3.45, 0.366), (3.80, 0.360), (4.15, 0.364), (4.55, 0.361), (4.95, 0.365), (5.40, 0.362),
    (5.85, 0.360), (6.30, 0.364), (6.80, 0.360),
    # upper part of the box and above it
    (3.09, 0.383), (3.38, 0.383), (3.57, 0.383), (3.89, 0.389), (4.11, 0.374), (4.90, 0.389), (5.02, 0.377),
    (5.41, 0.386), (5.86, 0.368), (6.05, 0.365), (6.31, 0.368), (6.65, 0.371), (7.13, 0.377), (7.49, 0.365),
    (2.85, 0.370), (3.20, 0.367), (3.70, 0.366), (4.45, 0.368), (4.70, 0.372), (5.20, 0.368), (2.95, 0.395),
    (4.40, 0.392), (5.67, 0.408), (5.95, 0.411), (6.53, 0.402), (3.40, 0.442), (5.63, 0.448), (7.36, 0.436),
    (8.76, 0.398),
    # middle and right part of the box
    (5.50, 0.210), (5.90, 0.225), (6.20, 0.240), (6.60, 0.250), (6.90, 0.235), (7.20, 0.260), (7.60, 0.270),
    (7.90, 0.300), (7.30, 0.290), (7.70, 0.320), (7.45, 0.215), (6.75, 0.280), (6.30, 0.205), (5.80, 0.245),
    (6.05, 0.270), (7.05, 0.310), (7.35, 0.335), (6.60, 0.330), (6.20, 0.345), (7.80, 0.250),
    (9.72, 0.389), (9.81, 0.359), (9.90, 0.249), (9.63, 0.185), (9.30, 0.160), (9.40, 0.218), (9.33, 0.243),
    (9.46, 0.273), (9.18, 0.298), (9.60, 0.295), (8.93, 0.185), (8.96, 0.172), (8.85, 0.334), (8.90, 0.322),
    (8.82, 0.288), (8.99, 0.267), (8.76, 0.261), (9.15, 0.255), (8.85, 0.221), (8.99, 0.215), (8.70, 0.197),
    (8.57, 0.249), (8.54, 0.218), (8.54, 0.350), (8.34, 0.350), (8.25, 0.389), (8.36, 0.319), (8.36, 0.289),
    (8.45, 0.289), (8.33, 0.273), (8.31, 0.249), (8.39, 0.239), (8.16, 0.218), (8.06, 0.239), (8.12, 0.267),
    (8.00, 0.289), (8.06, 0.313), (8.09, 0.343), (8.03, 0.359), (7.84, 0.353), (7.70, 0.359), (7.84, 0.328),
    (7.81, 0.249), (7.78, 0.215), (7.49, 0.175), (7.36, 0.191), (7.13, 0.185), (6.98, 0.181), (6.82, 0.203),
    (6.67, 0.227), (6.47, 0.191), (6.53, 0.160), (6.37, 0.160), (6.34, 0.191), (6.10, 0.194), (6.08, 0.181),
    (5.83, 0.181), (5.80, 0.111), (5.53, 0.157), (5.41, 0.191), (5.22, 0.114), (3.81, 0.088), (3.66, 0.126),
    (3.27, 0.126), (2.64, 0.123), (3.21, 0.151), (3.00, 0.165), (3.50, 0.170), (2.90, 0.175), (4.00, 0.172),
    (4.60, 0.175), (2.75, 0.155), (3.86, 0.138),
    # right of the box
    (10.14, 0.371), (10.84, 0.366), (11.41, 0.349), (11.88, 0.326), (10.10, 0.337), (10.17, 0.315), (10.37, 0.307),
    (10.45, 0.301), (10.84, 0.282), (11.38, 0.257), (11.50, 0.237), (10.25, 0.289), (10.09, 0.277), (10.20, 0.246),
    (10.05, 0.261), (10.87, 0.258),
]

x_tick_vals = [-4, -2, 0, 2, 4, 6, 8, 10, 12]
x_tick_text = ["-4", "-2", "0", "2", "4", "6", "8", "10", "12"]
y_tick_vals = [0, 0.2, 0.4, 0.6, 0.8, 1.0, 1.2]
y_tick_text = ["0", "0.2", "0.4", "0.6", "0.8", "1", "1.2"]
cut_timing = 2.7
accept_x = [2.7, 10.0]
accept_y = [0.18, 0.40]

# ---------------- figure ----------------
RED = "#fc5b52"
BLUE = "#3b3bf2"

fig = go.Figure()

fig.add_trace(go.Scatter(
    x=gamma_core_x, y=gamma_core_y, mode="lines", fill="toself",
    fillcolor=RED, line=dict(color=RED, width=2), hoverinfo="skip", showlegend=False))
fig.add_trace(go.Scatter(
    x=[p[0] for p in gamma_halo], y=[p[1] for p in gamma_halo], mode="markers",
    marker=dict(symbol="circle", size=5.5, color=RED, line=dict(width=0)), showlegend=False))
fig.add_trace(go.Scatter(
    x=[p[0] for p in neutron_pts], y=[p[1] for p in neutron_pts], mode="markers",
    marker=dict(symbol="circle-open", size=9, color=BLUE, line=dict(width=1.8, color=BLUE)),
    showlegend=False))
fig.add_trace(go.Scatter(
    x=[p[0] for p in beta_pts], y=[p[1] for p in beta_pts], mode="markers",
    marker=dict(symbol="cross-thin", size=15, color="black", line=dict(width=2.7, color="black")),
    showlegend=False))

L, R, T, B = 197, 133, 86, 105
PW, PH = 1392 - L - R, 1000 - T - B


def px2paper_x(px):
    return (px - L) / PW


def px2paper_y(py):
    return (1000 - B - py) / PH


shapes = [
    dict(type="line", xref="x", yref="y", x0=cut_timing, x1=cut_timing, y0=0, y1=1.2,
         line=dict(color="black", width=3, dash="10px,6px"), layer="above"),
    dict(type="rect", xref="x", yref="y", x0=accept_x[0], x1=accept_x[1], y0=accept_y[0], y1=accept_y[1],
         fillcolor="rgba(255,0,255,0.23)", line=dict(color="black", width=2.5), layer="above"),
    # slide frame remnants
    dict(type="rect", xref="paper", yref="paper", x0=px2paper_x(0), x1=px2paper_x(17),
         y0=px2paper_y(1000), y1=px2paper_y(0), fillcolor="#151515", line=dict(width=0), layer="above"),
    dict(type="line", xref="paper", yref="paper", x0=px2paper_x(9), x1=px2paper_x(9),
         y0=px2paper_y(1000), y1=px2paper_y(0), line=dict(color="#555555", width=4, dash="6px,6px"), layer="above"),
    dict(type="rect", xref="paper", yref="paper", x0=px2paper_x(0), x1=px2paper_x(1392),
         y0=px2paper_y(8), y1=px2paper_y(0), fillcolor="#262626", line=dict(width=0), layer="above"),
]

ann_font = "Lato, 'Open Sans', sans-serif"
annotations = [
    dict(x=8.80, y=1.039, xref="x", yref="y", text="γ (<sup>133</sup>Ba)", showarrow=False,
         font=dict(family=ann_font, size=42, color="#ff2200")),
    dict(x=6.45, y=0.687, xref="x", yref="y", text="β (<sup>133</sup>Ba)", showarrow=False,
         font=dict(family=ann_font, size=42, color="black")),
    dict(x=8.11, y=0.479, xref="x", yref="y", text="n (<sup>252</sup>Cf)", showarrow=False,
         font=dict(family=ann_font, size=42, color="#1f2cff")),
    dict(x=5.86, y=0.076, xref="x", yref="y", text="acceptance region", showarrow=False,
         font=dict(family=ann_font, size=42, color="#ff33ff")),
    # axis titles
    dict(x=px2paper_x(725), y=px2paper_y(968), xref="paper", yref="paper", text="<b>Timing Parameter (µs)</b>",
         showarrow=False, xanchor="center", yanchor="middle",
         font=dict(family="Liberation Serif, serif", size=39, color="#222222")),
    dict(x=px2paper_x(118), y=px2paper_y(492), xref="paper", yref="paper", text="<b>Ionization Yield</b>",
         showarrow=False, textangle=-90, xanchor="center", yanchor="middle",
         font=dict(family="Liberation Serif, serif", size=39, color="#222222")),
    # arrows
    dict(x=-0.45, y=1.083, ax=-1.72, ay=1.313, xref="x", yref="y", axref="x", ayref="y", text="",
         showarrow=True, arrowhead=2, arrowsize=1.0, arrowwidth=3.5, arrowcolor="#777777"),
    dict(x=-2.26, y=0.438, ax=-5.29, ay=-0.156, xref="x", yref="y", axref="x", ayref="y", text="",
         showarrow=True, arrowhead=2, arrowsize=1.0, arrowwidth=3.5, arrowcolor="#777777"),
    dict(x=6.08, y=0.193, ax=5.18, ay=-0.156, xref="x", yref="y", axref="x", ayref="y", text="",
         showarrow=True, arrowhead=2, arrowsize=1.0, arrowwidth=3.5, arrowcolor="#777777"),
]

axis_common = dict(
    showline=True, linecolor="black", linewidth=2.5, mirror="ticks",
    ticks="inside", ticklen=8, tickwidth=2.5, tickcolor="black",
    showgrid=True, gridcolor="#b0b0b0", griddash="dot", gridwidth=1.3,
    zeroline=False, tickfont=dict(family="Liberation Sans, Arial, sans-serif", size=26, color="#222222"),
)

fig.update_layout(
    width=1392, height=1000, autosize=False,
    margin=dict(l=L, r=R, t=T, b=B, pad=0),
    paper_bgcolor="white", plot_bgcolor="white",
    xaxis=dict(range=[-4.48, 12], tickvals=x_tick_vals, ticktext=x_tick_text, ticklabelstandoff=9,
               **axis_common),
    yaxis=dict(range=[0, 1.2], tickvals=y_tick_vals, ticktext=y_tick_text, ticklabelstandoff=6,
               **axis_common),
    shapes=shapes, annotations=annotations, showlegend=False,
)

fig.write_html("out.html")
